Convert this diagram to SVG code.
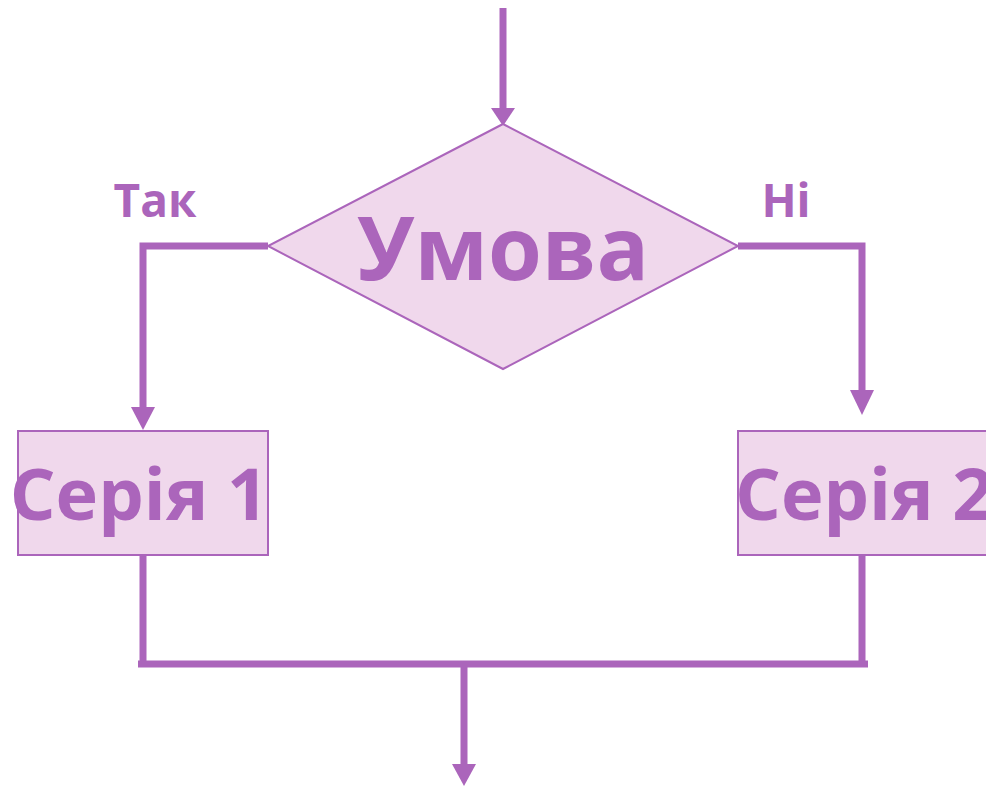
<svg xmlns="http://www.w3.org/2000/svg" width="986" height="786" viewBox="0 0 986 786">
  <defs>
    <style>
      .shape { fill: #f0d8ec; stroke: #ab65bb; stroke-width: 2; }
      .flow { fill: none; stroke: #ab65bb; stroke-width: 7; stroke-linejoin: miter; stroke-linecap: butt; }
      .head { fill: #ab65bb; }
      text { font-family: "Open Sans", "Noto Sans", "DejaVu Sans", sans-serif; font-weight: bold; fill: #ab65bb; }
      .big { font-size: 87px; }
      .mid { font-size: 72px; }
      .small { font-size: 46px; }
    </style>
  </defs>

  <!-- connectors -->
  <g id="connectors">
    <path class="flow" d="M503,8 V110"/>
    <path class="head" d="M491,108 H515 L503,126 Z"/>
    <path class="flow" d="M268,246 H143 V410"/>
    <path class="head" d="M131,407 H155 L143,430 Z"/>
    <path class="flow" d="M738,246 H862 V392"/>
    <path class="head" d="M850,390 H874 L862,415 Z"/>
    <path class="flow" d="M143,555 V664 M862,555 V664 M138,664 H868 M464,664 V766"/>
    <path class="head" d="M452,764 H476 L464,786 Z"/>
  </g>

  <!-- decision -->
  <g id="condition">
    <polygon class="shape" points="503,124 738,246 503,369 268,246"/>
    <text class="big" x="503" y="280" text-anchor="middle">Умова</text>
  </g>

  <g id="label-yes">
    <text class="small" x="155" y="217" text-anchor="middle">Так</text>
  </g>
  <g id="label-no">
    <text class="small" x="786" y="217" text-anchor="middle">Ні</text>
  </g>

  <!-- process boxes -->
  <g id="series1">
    <rect class="shape" x="18" y="431" width="250" height="124"/>
    <text class="mid" x="139" y="520" text-anchor="middle">Серія 1</text>
  </g>
  <g id="series2">
    <rect class="shape" x="738" y="431" width="260" height="124"/>
    <text class="mid" x="735" y="520">Серія 2</text>
  </g>
</svg>
